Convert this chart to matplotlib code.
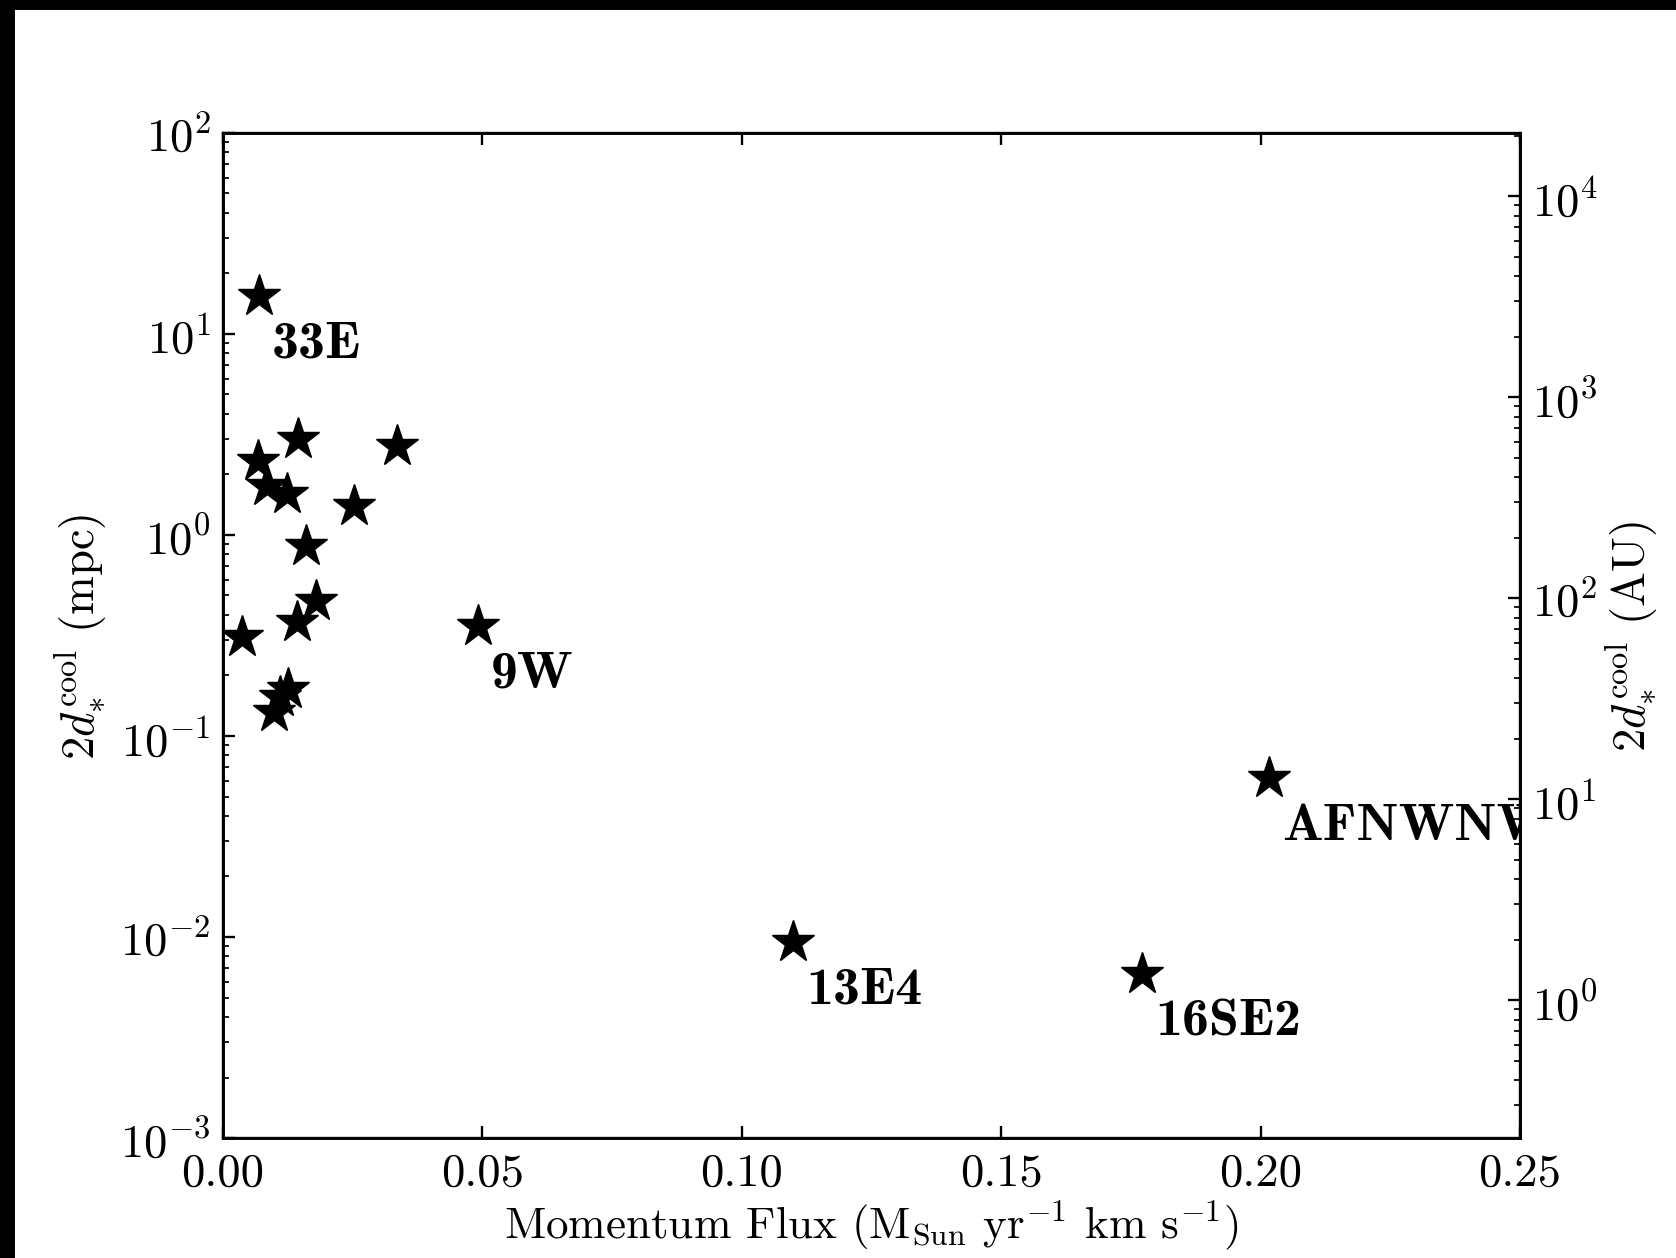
import matplotlib
matplotlib.use("Agg")
import matplotlib.pyplot as plt
from matplotlib.patches import Rectangle

plt.rcParams["font.family"] = "serif"
plt.rcParams["font.serif"] = ["cmr10"]
plt.rcParams["mathtext.fontset"] = "cm"
plt.rcParams["axes.formatter.use_mathtext"] = True
plt.rcParams["xtick.direction"] = "in"
plt.rcParams["ytick.direction"] = "in"
plt.rcParams["xtick.top"] = True
plt.rcParams["xtick.major.size"] = 4
plt.rcParams["xtick.minor.size"] = 2
plt.rcParams["ytick.major.size"] = 4
plt.rcParams["ytick.minor.size"] = 2
plt.rcParams["xtick.major.pad"] = 5
plt.rcParams["ytick.major.pad"] = 4

# momentum flux (Msun/yr km/s) and 2 d_cool (mpc)
flux = [0.0070, 0.0146, 0.0335, 0.0067, 0.0086, 0.0123, 0.0253, 0.0160,
        0.0180, 0.0143, 0.0037, 0.0491, 0.0125, 0.0110, 0.0099,
        0.2017, 0.1099, 0.1771]
dcool = [15.5, 3.0, 2.78, 2.34, 1.75, 1.60, 1.39, 0.885,
         0.471, 0.368, 0.310, 0.354, 0.171, 0.156, 0.131,
         0.0618, 0.00946, 0.00656]
names = ["33E", "", "", "", "", "", "", "",
         "", "", "", "9W", "", "", "",
         "AFNWNW", "13E4", "16SE2"]

MPC_TO_AU = 206.265
ylo, yhi = 1e-3, 1e2

fig = plt.figure(figsize=(8.0, 6.0095), dpi=209.5)
fig.patches.append(Rectangle((0, 0), 13 / 1676, 1, transform=fig.transFigure,
                             color="k", zorder=-1))
fig.patches.append(Rectangle((0, 1 - 9 / 1259), 1, 9 / 1259,
                             transform=fig.transFigure, color="k", zorder=-1))

ax = fig.add_axes([0.1329, 0.0953, 0.774, 0.7983])
ax.plot(flux, dcool, "*", color="k", ms=15, mec="k", mew=0.5)
for x, y, n in zip(flux, dcool, names):
    if n:
        ax.annotate(n, (x, y), xytext=(4.5, -21), textcoords="offset points",
                    fontsize=18.5, family="cmb10", va="baseline", ha="left",
                    annotation_clip=False, clip_on=True)

ax.set_yscale("log")
ax.set_xlim(0, 0.25)
ax.set_ylim(ylo, yhi)
ax.set_xticks([0.0, 0.05, 0.10, 0.15, 0.20, 0.25])
ax.set_xticklabels(["0.00", "0.05", "0.10", "0.15", "0.20", "0.25"])
ax.tick_params(labelsize=16)
ax.set_xlabel(r"Momentum Flux (M$_{\rm Sun}$ yr$^{-1}$ km s$^{-1}$)",
              fontsize=15.5, labelpad=1)
ax.set_ylabel(r"$2d_{*}^{\rm cool}$ (mpc)", fontsize=16)
for s in ax.spines.values():
    s.set_linewidth(1.0)

ax2 = ax.twinx()
ax2.set_yscale("log")
ax2.set_ylim(ylo * MPC_TO_AU, yhi * MPC_TO_AU)
ax2.tick_params(labelsize=16)
ax2.set_ylabel(r"$2d_{*}^{\rm cool}$ (AU)", fontsize=16, labelpad=2)

fig.savefig("out.png", dpi=209.5)
